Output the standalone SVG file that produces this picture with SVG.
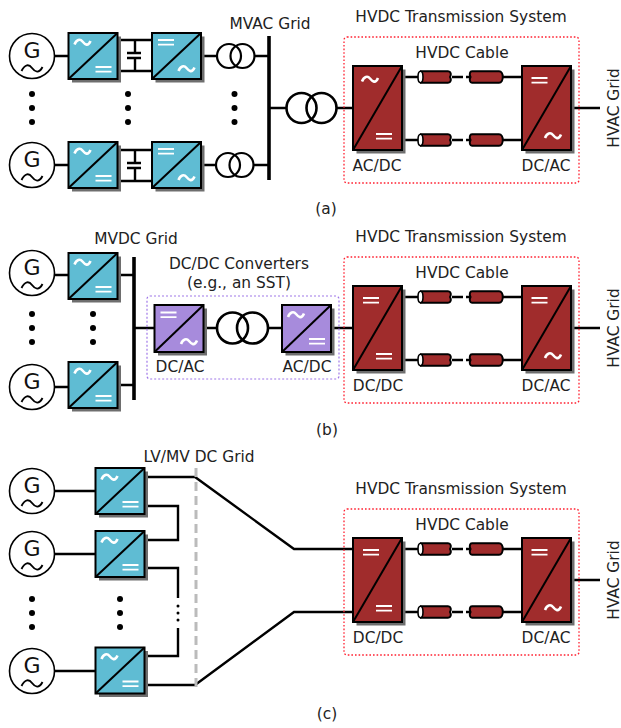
<svg xmlns="http://www.w3.org/2000/svg" width="621" height="728" viewBox="0 0 621 728">
<style>
text{font-family:"DejaVu Sans",Verdana,sans-serif;font-size:15.4px;fill:#222;text-anchor:middle}
.w{fill:none;stroke:#000;stroke-width:2.4;stroke-linejoin:miter}
.bus{stroke:#000;stroke-width:3.6;fill:none}
.tr{fill:none;stroke:#000;stroke-width:2.2}
.trb{fill:none;stroke:#000;stroke-width:2.6}
.sh{fill:#6e6e6e}
.blue{fill:#5fbcd3;stroke:#000;stroke-width:2}
.pur{fill:#a78bdc;stroke:#000;stroke-width:2}
.red{fill:#a02c2c;stroke:#000;stroke-width:2}
.d{stroke:#000;stroke-width:2;fill:none}
.t{fill:none;stroke:#fff;stroke-width:2.6}
.e{stroke:#fff;stroke-width:1.8;fill:none}
.gc{fill:#fff;stroke:#000;stroke-width:1.6}
.gt{font-size:22px;fill:#111}
.sq{fill:none;stroke:#000;stroke-width:1.9}
.hv{fill:none;stroke:#ff2030;stroke-width:1.3;stroke-dasharray:1.6 2}
.pv{fill:none;stroke:#a078e8;stroke-width:1.2;stroke-dasharray:2 2}
.dot{fill:#000}
.cb{fill:#a02c2c;stroke:#000;stroke-width:2}
.el{fill:#fff;stroke:#000;stroke-width:1.6}
.g{fill:none;stroke:#bbb;stroke-width:3;stroke-dasharray:9 5}
</style>
<defs>
<path id="tl" class="t" d="M0 5C2 0 5.500-1 8 2S13.500 7.500 16 1.500"/>
<g id="eq"><path class="e" d="M0 0H16M0 4.700H16"/></g>
<g id="gen">
<circle class="gc" r="22.500"/>
<text class="gt" x="0" y="2">G</text>
<path class="sq" d="M-10.500 15C-7 8-3 8 0 12S7 18 10.500 11"/>
</g>
<g id="cb-s"><rect class="sh" x="3.500" y="3.500" width="49" height="46"/></g>
<g id="ad"><use href="#cb-s"/><rect class="blue" width="49" height="46"/><path class="d" d="M0 46L49 0"/><use href="#tl" x="6" y="6.500"/><use href="#eq" x="27" y="34"/></g>
<g id="da"><use href="#cb-s"/><rect class="blue" width="49" height="46"/><path class="d" d="M0 46L49 0"/><use href="#eq" x="6" y="7"/><use href="#tl" x="26.500" y="33"/></g>
<g id="pda"><rect class="sh" x="3.500" y="3.500" width="49" height="47"/><rect class="pur" width="49" height="47"/><path class="d" d="M0 47L49 0"/><use href="#eq" x="6" y="7.500"/><use href="#tl" x="26.500" y="34"/></g>
<g id="pad"><rect class="sh" x="3.500" y="3.500" width="49" height="47"/><rect class="pur" width="49" height="47"/><path class="d" d="M0 47L49 0"/><use href="#tl" x="6" y="7"/><use href="#eq" x="27" y="34"/></g>
<g id="rs"><rect class="sh" x="3.500" y="3.500" width="49" height="84"/><rect class="red" width="49" height="84"/><path class="d" d="M0 84L49 0"/></g>
<g id="cable">
<path class="w" d="M402 0H419M503 0H522"/>
<path class="w" d="M452 0H463M466 0H470"/>
<path class="cb" d="M421 -5.700H448C451 -5.700 451.500 -2.500 450 0C451.500 2.500 451 5.700 448 5.700H421Z"/>
<ellipse class="el" cx="420.500" cy="0" rx="2.500" ry="5.700"/>
<path class="cb" d="M472 -5.700H499C504 -5.700 504 5.700 499 5.700H472C470 5.700 469 3 470.500 0C469 -3 470 -5.700 472 -5.700Z"/>
</g>
<g id="dots"><circle class="dot" r="3" cy="0"/><circle class="dot" r="3" cy="14"/><circle class="dot" r="3" cy="28"/></g>
</defs>

<g id="connectors">
<path class="w" d="M54 56H68M54 165H68M117 40H152M117 71H152M117 150H152M117 181H152M135 40V53M135 58V71M135 150V163M135 168V181M127 53H141M127 58H141M127 163H141M127 168H141M201 56H217M254 56H269M201 165H217M254 165H269M269 108H286M337 108H353M571 108H600"/>
<path class="bus" d="M269 36V180"/>
<use href="#cable" y="77"/><use href="#cable" y="140"/>

<path class="w" d="M54 275H68M54 387H68M117 275H134M117 385H134M134 328H154M203 328H217M268 328H282M331 328H353M571 328H600"/>
<path class="bus" d="M134 257V400"/>
<use href="#cable" y="297"/><use href="#cable" y="360"/>

<path class="w" d="M54 491H95M54 554H95M54 671H95"/>
<path class="w" d="M145 477H195L294 549H353M145 506H178V540H145M145 568H178V598M178 628V656H145M145 685H195L294 612H353M571 580H600"/>
<use href="#cable" y="549"/><use href="#cable" y="612"/>
<path class="g" d="M196 468V692"/>
<circle class="dot" cx="178" cy="606" r="1.500"/><circle class="dot" cx="178" cy="613" r="1.500"/><circle class="dot" cx="178" cy="620" r="1.500"/>
</g>

<g id="panel-a">
<g id="a-gen1"><use href="#gen" x="32" y="56"/></g>
<g id="a-gen2"><use href="#gen" x="32" y="165"/></g>
<g id="a-conv1"><use href="#ad" x="68.500" y="33"/></g>
<g id="a-conv2"><use href="#da" x="152" y="33"/></g>
<g id="a-conv3"><use href="#ad" x="68.500" y="142"/></g>
<g id="a-conv4"><use href="#da" x="152" y="142"/></g>
<g id="a-tr1"><circle class="tr" cx="229" cy="56" r="12"/><circle class="tr" cx="242.500" cy="56" r="12"/></g>
<g id="a-tr2"><circle class="tr" cx="228" cy="165" r="12"/><circle class="tr" cx="241.500" cy="165" r="12"/></g>
<g id="a-tr3"><circle class="trb" cx="301.500" cy="108" r="15"/><circle class="trb" cx="321.500" cy="108" r="15"/></g>
<use href="#dots" x="32" y="94"/><use href="#dots" x="128" y="94"/><use href="#dots" x="234.500" y="94"/>
<g id="a-hvdc"><rect class="hv" x="344" y="37" width="235" height="146" rx="3"/>
<use href="#rs" x="353" y="66"/><use href="#tl" x="362" y="76.500"/><use href="#eq" x="376" y="134"/>
<use href="#rs" x="522" y="66"/><use href="#eq" x="531.500" y="78"/><use href="#tl" x="545" y="133"/></g>
<text x="270" y="29">MVAC Grid</text>
<text x="461" y="22">HVDC Transmission System</text>
<text x="462" y="58">HVDC Cable</text>
<text x="377" y="171">AC/DC</text>
<text x="546" y="171">DC/AC</text>
<text transform="translate(618.500 108) rotate(-90)" x="0" y="0">HVAC Grid</text>
<text x="326" y="214">(a)</text>
</g>

<g id="panel-b">
<g id="b-gen1"><use href="#gen" x="32" y="273"/></g>
<g id="b-gen2"><use href="#gen" x="32" y="387"/></g>
<g id="b-conv1"><use href="#ad" x="68.500" y="253"/></g>
<g id="b-conv2"><use href="#ad" x="68.500" y="362"/></g>
<use href="#dots" x="32" y="314"/><use href="#dots" x="93" y="314"/>
<g id="b-sst"><rect class="pv" x="147" y="296" width="192" height="83" rx="3"/>
<use href="#pda" x="154.500" y="305"/><use href="#pad" x="282" y="305"/>
<circle class="trb" cx="232.500" cy="328" r="15.500"/><circle class="trb" cx="252.500" cy="328" r="15.500"/></g>
<g id="b-hvdc"><rect class="hv" x="344" y="257" width="235" height="146" rx="3"/>
<use href="#rs" x="353" y="286"/><use href="#eq" x="363" y="298"/><use href="#eq" x="376" y="354"/>
<use href="#rs" x="522" y="286"/><use href="#eq" x="531.500" y="298"/><use href="#tl" x="545" y="353"/></g>
<text x="136" y="244">MVDC Grid</text>
<text x="239" y="269">DC/DC Converters</text>
<text x="239" y="288">(e.g., an SST)</text>
<text x="180" y="372">DC/AC</text>
<text x="307" y="372">AC/DC</text>
<text x="461" y="242">HVDC Transmission System</text>
<text x="462" y="278">HVDC Cable</text>
<text x="378" y="391">DC/DC</text>
<text x="546" y="391">DC/AC</text>
<text transform="translate(618.500 328) rotate(-90)" x="0" y="0">HVAC Grid</text>
<text x="327" y="435">(b)</text>
</g>

<g id="panel-c">
<g id="c-gen1"><use href="#gen" x="32" y="491"/></g>
<g id="c-gen2"><use href="#gen" x="32" y="554"/></g>
<g id="c-gen3"><use href="#gen" x="32" y="671"/></g>
<g id="c-conv1"><use href="#ad" x="95.500" y="468"/></g>
<g id="c-conv2"><use href="#ad" x="95.500" y="531"/></g>
<g id="c-conv3"><use href="#ad" x="95.500" y="647.500"/></g>
<use href="#dots" x="32" y="599"/><use href="#dots" x="120" y="599"/>
<g id="c-hvdc"><rect class="hv" x="344" y="509" width="235" height="146" rx="3"/>
<use href="#rs" x="353" y="538"/><use href="#eq" x="363" y="550"/><use href="#eq" x="376" y="606"/>
<use href="#rs" x="522" y="538"/><use href="#eq" x="531.500" y="550"/><use href="#tl" x="545" y="605"/></g>
<text x="199" y="462">LV/MV DC Grid</text>
<text x="461" y="494">HVDC Transmission System</text>
<text x="462" y="530">HVDC Cable</text>
<text x="378" y="643">DC/DC</text>
<text x="546" y="643">DC/AC</text>
<text transform="translate(618.500 580) rotate(-90)" x="0" y="0">HVAC Grid</text>
<text x="327" y="719">(c)</text>
</g>
</svg>
